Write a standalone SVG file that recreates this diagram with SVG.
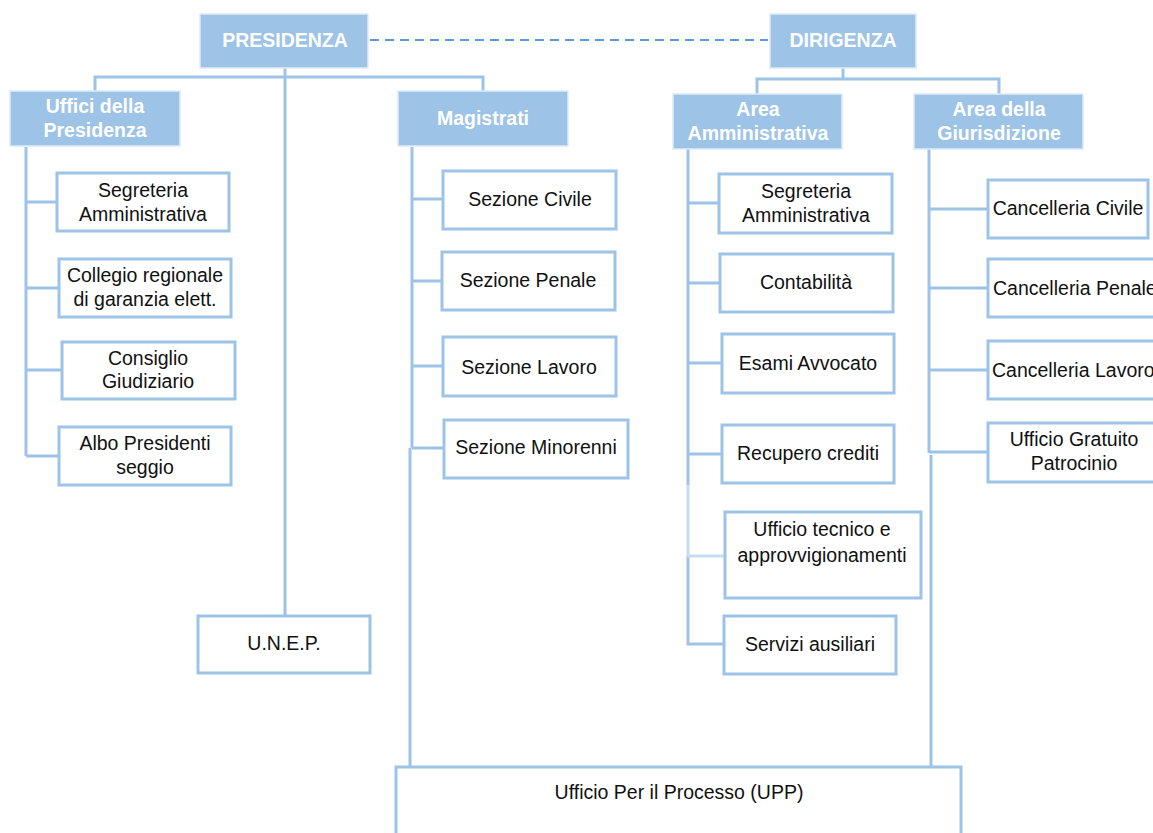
<svg xmlns="http://www.w3.org/2000/svg" width="1153" height="833" viewBox="0 0 1153 833">
<style>
.hd{fill:#9DC3E6;stroke:#DDEBF7;stroke-width:1.5}
.bx{fill:#FFFFFF;stroke:#9DC3E6;stroke-width:3}
.ht{font-family:"Liberation Sans",Arial,sans-serif;font-weight:bold;font-size:19.5px;fill:#FFFFFF;text-anchor:middle}
.t{font-family:"Liberation Sans",Arial,sans-serif;font-size:19.5px;fill:#111111;text-anchor:middle}
.ts{font-family:"Liberation Sans",Arial,sans-serif;font-size:19.5px;fill:#111111;text-anchor:start}
.ln{fill:none;stroke:#9DC3E6;stroke-width:3}
.lt{fill:none;stroke:#C5DCF1;stroke-width:3}
.dash{fill:none;stroke:#5B9BD5;stroke-width:2;stroke-dasharray:9,6}
</style>
<rect width="1153" height="833" fill="#FFFFFF"/>
<g id="connectors">
<line class="dash" x1="370" y1="40" x2="768" y2="40"/>
<path class="ln" d="M285,68 V616 M95,91 V77 H483 V91"/>
<path class="ln" d="M26,147 V456 M26,202 H57 M26,288 H59 M26,370 H62 M26,456 H59"/>
<path class="ln" d="M412,147 V448 M412,199 H443 M412,281 H442 M412,366 H443 M412,448 H444 M410,448 V767"/>
<path class="ln" d="M843,68 V79 M757,94 V79 H999 V94"/>
<path class="ln" d="M688,149 V485 M688,203 H719 M688,283 H720 M688,363 H722 M688,454 H722 M688,556 V644 H724"/>
<path class="lt" d="M688,485 V556 H725"/>
<path class="ln" d="M929,149 V453 M929,209 H988 M929,288 H988 M929,370 H988 M929,452 H988 M931,455 V767"/>
</g>
<g id="presidenza"><rect class="hd" x="200" y="14" width="168" height="54"/><text class="ht" x="285" y="47">PRESIDENZA</text></g>
<g id="dirigenza"><rect class="hd" x="770" y="14" width="146" height="54"/><text class="ht" x="843" y="47">DIRIGENZA</text></g>
<g id="uffici-presidenza"><rect class="hd" x="10" y="91" width="170" height="55"/><text class="ht" x="95" y="113">Uffici della</text><text class="ht" x="95" y="137">Presidenza</text></g>
<g id="magistrati"><rect class="hd" x="398" y="91" width="170" height="55"/><text class="ht" x="483" y="125">Magistrati</text></g>
<g id="area-amministrativa"><rect class="hd" x="673" y="94" width="169" height="55"/><text class="ht" x="758" y="116">Area</text><text class="ht" x="758" y="140">Amministrativa</text></g>
<g id="area-giurisdizione"><rect class="hd" x="914" y="94" width="169" height="55"/><text class="ht" x="999" y="116">Area della</text><text class="ht" x="999" y="140">Giurisdizione</text></g>

<g id="segreteria-amm-p"><rect class="bx" x="57" y="173" width="172" height="58"/><text class="t" x="143" y="197">Segreteria</text><text class="t" x="143" y="221">Amministrativa</text></g>
<g id="collegio"><rect class="bx" x="59" y="259" width="172" height="58"/><text class="t" x="145" y="282">Collegio regionale</text><text class="t" x="145" y="306">di garanzia elett.</text></g>
<g id="consiglio"><rect class="bx" x="62" y="342" width="173" height="57"/><text class="t" x="148" y="365">Consiglio</text><text class="t" x="148" y="388">Giudiziario</text></g>
<g id="albo"><rect class="bx" x="59" y="427" width="172" height="58"/><text class="t" x="145" y="450">Albo Presidenti</text><text class="t" x="145" y="474">seggio</text></g>
<g id="unep"><rect class="bx" x="198" y="616" width="172" height="57"/><text class="t" x="284" y="650">U.N.E.P.</text></g>

<g id="sez-civile"><rect class="bx" x="443" y="171" width="173" height="58"/><text class="t" x="530" y="206">Sezione Civile</text></g>
<g id="sez-penale"><rect class="bx" x="442" y="252" width="173" height="58"/><text class="t" x="528" y="287">Sezione Penale</text></g>
<g id="sez-lavoro"><rect class="bx" x="443" y="337" width="173" height="59"/><text class="t" x="529" y="374">Sezione Lavoro</text></g>
<g id="sez-minorenni"><rect class="bx" x="444" y="420" width="184" height="58"/><text class="t" x="536" y="454">Sezione Minorenni</text></g>

<g id="segreteria-amm-d"><rect class="bx" x="719" y="174" width="173" height="59"/><text class="t" x="806" y="198">Segreteria</text><text class="t" x="806" y="222">Amministrativa</text></g>
<g id="contabilita"><rect class="bx" x="720" y="254" width="173" height="58"/><text class="t" x="806" y="289">Contabilità</text></g>
<g id="esami"><rect class="bx" x="722" y="334" width="172" height="59"/><text class="t" x="808" y="370">Esami Avvocato</text></g>
<g id="recupero"><rect class="bx" x="722" y="425" width="172" height="58"/><text class="t" x="808" y="460">Recupero crediti</text></g>
<g id="ufficio-tecnico"><rect class="bx" x="725" y="512" width="196" height="86"/><text class="t" x="822" y="536">Ufficio tecnico e</text><text class="t" x="822" y="562">approvvigionamenti</text></g>
<g id="servizi"><rect class="bx" x="724" y="616" width="172" height="58"/><text class="t" x="810" y="651">Servizi ausiliari</text></g>

<g id="canc-civile"><rect class="bx" x="988" y="180" width="160" height="58"/><text class="t" x="1068" y="215">Cancelleria Civile</text></g>
<g id="canc-penale"><rect class="bx" x="988" y="259" width="175" height="58"/><text class="ts" x="993" y="295">Cancelleria Penale</text></g>
<g id="canc-lavoro"><rect class="bx" x="988" y="341" width="175" height="58"/><text class="ts" x="992" y="377">Cancelleria Lavoro</text></g>
<g id="gratuito"><rect class="bx" x="988" y="423" width="175" height="59"/><text class="t" x="1074" y="446">Ufficio Gratuito</text><text class="t" x="1074" y="470">Patrocinio</text></g>

<g id="upp"><rect class="bx" x="396" y="767" width="565" height="80"/><text class="t" x="679" y="799">Ufficio Per il Processo (UPP)</text></g>
</svg>
